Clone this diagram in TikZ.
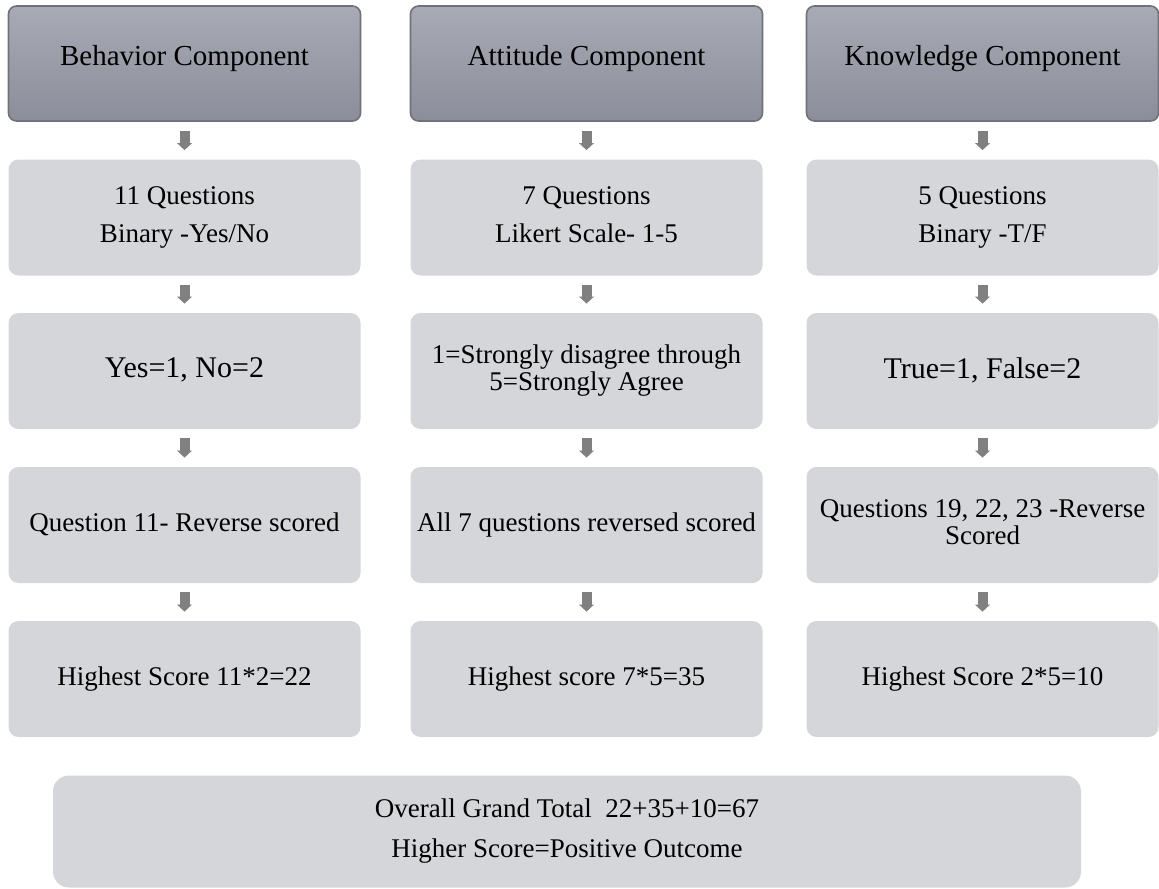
\documentclass[tikz,border=0pt]{standalone}
\usepackage{fontspec}
\setmainfont{Liberation Serif}
\usetikzlibrary{arrows.meta}
\definecolor{headtop}{RGB}{168,171,181}
\definecolor{headbot}{RGB}{139,142,154}
\definecolor{headline}{RGB}{112,114,121}
\definecolor{boxfill}{RGB}{213,214,217}
\definecolor{arrowgray}{RGB}{128,128,128}

\begin{document}
\begin{tikzpicture}[x=0.5pt, y=-0.5pt,
  head/.style={rectangle, rounded corners=4pt, draw=headline, line width=0.8pt, top color=headtop, bottom color=headbot, minimum width=176pt, minimum height=57.5pt, inner sep=0pt, text depth=8pt, font=\fontsize{14.5}{17}\selectfont, align=center},
  stepbox/.style={rectangle, rounded corners=5pt, fill=boxfill, minimum width=176pt, minimum height=58pt, inner sep=0pt, text depth=3pt, font=\fontsize{13.5}{19}\selectfont, align=center},
  tight/.style={font=\fontsize{13.5}{13.5}\selectfont},
  bigger/.style={font=\fontsize{15}{18}\selectfont},
  flow/.style={draw=arrowgray, line width=5pt, shorten <=4.5pt, shorten >=4.5pt, -{Triangle[width=7.5pt, length=3.5pt, line width=0pt]}}]
  \useasboundingbox (0,0) rectangle (1159,888);

  % component headers
  \node[head] (B1) at (184.5, 63.5) {Behavior Component};
  \node[head] (A1) at (586.5, 63.5) {Attitude Component};
  \node[head] (K1) at (982.5, 63.5) {Knowledge Component};

  \node[stepbox] (B2) at (184.5, 217.5) {11 Questions\\Binary -Yes/No};
  \node[stepbox] (A2) at (586.5, 217.5) {7 Questions\\Likert Scale- 1-5};
  \node[stepbox] (K2) at (982.5, 217.5) {5 Questions\\Binary -T/F};

  \node[stepbox, bigger] (B3) at (184.5, 371) {Yes=1, No=2};
  \node[stepbox, tight] (A3) at (586.5, 371) {1=Strongly disagree through\\5=Strongly Agree};
  \node[stepbox, bigger] (K3) at (982.5, 371) {True=1, False=2};

  \node[stepbox] (B4) at (184.5, 525) {Question 11- Reverse scored};
  \node[stepbox] (A4) at (586.5, 525) {All 7 questions reversed scored};
  \node[stepbox, tight] (K4) at (982.5, 525) {Questions 19, 22, 23 -Reverse\\Scored};

  \node[stepbox] (B5) at (184.5, 679) {Highest Score 11*2=22};
  \node[stepbox] (A5) at (586.5, 679) {Highest score 7*5=35};
  \node[stepbox] (K5) at (982.5, 679) {Highest Score 2*5=10};

  % grand total
  \node[stepbox, rounded corners=8pt, minimum width=514pt, minimum height=56pt, font=\fontsize{13.5}{20}\selectfont] (T) at (567, 831.5) {Overall Grand Total\ \ 22+35+10=67\\Higher Score=Positive Outcome};

  \draw[flow] (B1) -- (B2);
  \draw[flow] (B2) -- (B3);
  \draw[flow] (B3) -- (B4);
  \draw[flow] (B4) -- (B5);
  \draw[flow] (A1) -- (A2);
  \draw[flow] (A2) -- (A3);
  \draw[flow] (A3) -- (A4);
  \draw[flow] (A4) -- (A5);
  \draw[flow] (K1) -- (K2);
  \draw[flow] (K2) -- (K3);
  \draw[flow] (K3) -- (K4);
  \draw[flow] (K4) -- (K5);
\end{tikzpicture}
\end{document}
